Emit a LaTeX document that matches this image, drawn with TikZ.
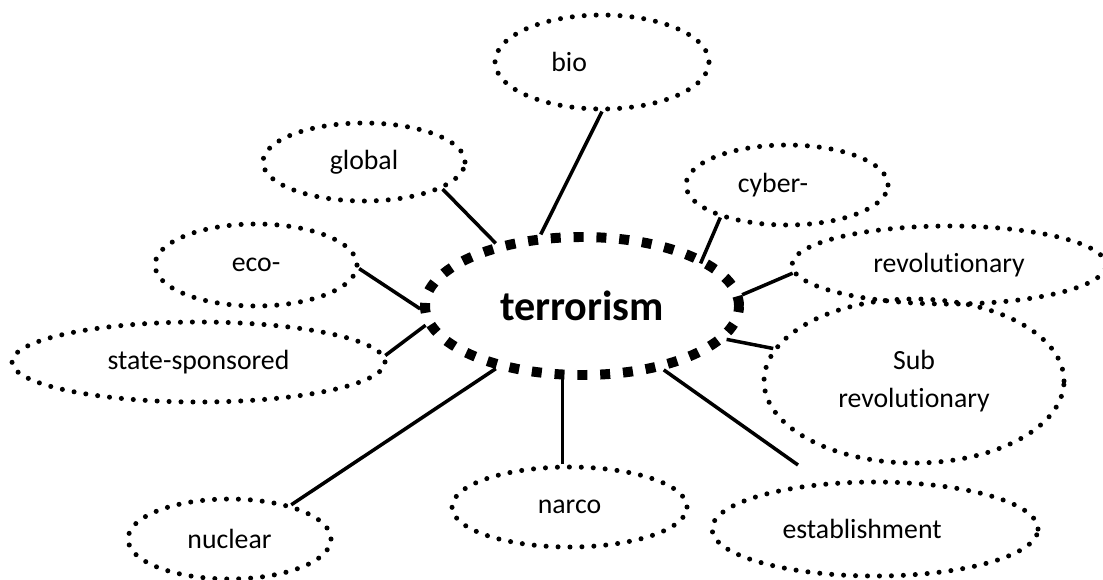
\documentclass[tikz,border=0pt]{standalone}
\usepackage{fontspec}
\setmainfont{Carlito}[Ligatures=NoCommon]
\usetikzlibrary{shapes.geometric}
\begin{document}
\begin{tikzpicture}[x=0.03cm,y=-0.03cm,
    bubble/.style={ellipse,draw,line width=4.3pt,line cap=round,
      dash pattern=on 0pt off 10.2pt,inner sep=0pt,
      font=\fontsize{23.7}{32.4}\selectfont,align=center},
    hub/.style={ellipse,draw,line width=8.5pt,dash pattern=on 8.5pt off 11pt,
      inner sep=0pt,font=\fontsize{36}{40}\selectfont\bfseries},
    link/.style={line width=3pt}]
      \useasboundingbox (0,0) rectangle (1103,579);
      \node[hub,minimum width=9.42cm,minimum height=4.14cm] (terror) at (582,306) {terrorism};
      \node[bubble,minimum width=6.42cm,minimum height=2.82cm] (bio) at (602,62) {bio\hspace*{56pt}};
      \node[bubble,minimum width=6.06cm,minimum height=2.34cm] (global) at (364,162) {global};
      \node[bubble,minimum width=6.06cm,minimum height=2.4cm] (cyber) at (787,185) {cyber-\hspace*{24pt}};
      \node[bubble,minimum width=6.06cm,minimum height=2.46cm] (eco) at (256,265) {eco-};
      \node[bubble,minimum width=9.42cm,minimum height=2.34cm] (revol) at (949,265) {revolutionary};
      \node[bubble,minimum width=11.19cm,minimum height=2.4cm] (state) at (198.5,362) {state-sponsored};
      \node[bubble,minimum width=9cm,minimum height=4.92cm] (subrev) at (914,381) {Sub\\revolutionary};
      \node[bubble,minimum width=6.09cm,minimum height=2.4cm] (nuclear) at (229.5,539) {nuclear};
      \node[bubble,minimum width=7.05cm,minimum height=2.4cm] (narco) at (569.5,507) {narco};
      \node[bubble,minimum width=9.78cm,minimum height=2.82cm] (estab) at (875,529) {establishment\hspace*{22pt}};
      \coordinate (estab-end) at (798,465);
%      \draw[red] (0,0) rectangle (1103,579);
      \draw[link] (terror.120) -- (bio.south);
      \draw[link] (terror.144) -- (global.-19);
      \draw[link,shorten <=-6pt] (terror.22) -- (cyber.206);
      \draw[link] (terror.181) -- (eco.-2);
      \draw[link] (terror.4) -- (revol.183);
      \draw[link] (terror.187) -- (state.2);
      \draw[link] (terror.-13) -- (subrev.167);
      \draw[link] (terror.216) -- (nuclear.29);
      \draw[link] (terror.255) -- (terror.255 |- narco.north);
      \draw[link] (terror.-38) -- (estab-end);
    \end{tikzpicture}
\end{document}
